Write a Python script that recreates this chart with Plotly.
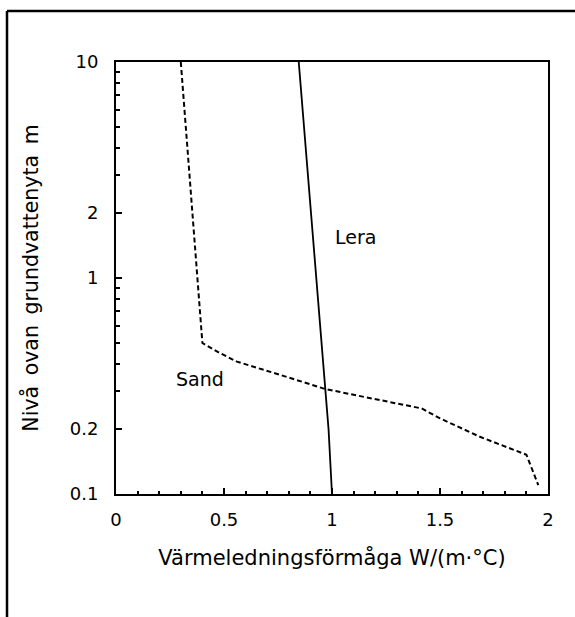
import math
import plotly.graph_objects as go

# ---- data ----
sand_x = [0.30, 0.353, 0.376, 0.385, 0.40, 0.48, 0.56, 0.76, 0.97, 1.16, 1.415, 1.50, 1.685, 1.90, 1.955]
sand_y = [10, 2, 1, 0.8, 0.5, 0.45, 0.41, 0.356, 0.306, 0.28, 0.249, 0.224, 0.184, 0.152, 0.11]

lera_x = [0.846, 0.903, 0.926, 0.952, 0.972, 0.984, 1.0]
lera_y = [10, 2, 1, 0.5, 0.3, 0.2, 0.1]

x_tickvals = [0, 0.5, 1, 1.5, 2]
x_ticktext = ["0", "0.5", "1", "1.5", "2"]
y_tickvals = [0.1, 0.2, 1, 2, 10]
y_ticktext = ["0.1", "0.2", "1", "2", "10"]
y_minor = [0.3, 0.4, 0.5, 0.6, 0.7, 0.8, 0.9, 3, 4, 5, 6, 7, 8, 9]

x_title = "Värmeledningsförmåga W/(m·°C)"
y_title = "Nivå\u2009 ovan\u2009 grundvattenyta\u2009 m"
labels = [("Sand", 0.388, 0.34), ("Lera", 1.111, 1.55)]

FONT = "DejaVu Sans"
W, H = 575, 617
ML, MR, MT, MB = 116, 27, 62, 123

fig = go.Figure()
fig.add_trace(go.Scatter(x=sand_x, y=sand_y, mode="lines", name="Sand",
                         line=dict(color="black", width=2, dash="5px,3px")))
fig.add_trace(go.Scatter(x=lera_x, y=lera_y, mode="lines", name="Lera",
                         line=dict(color="black", width=1.8)))

# annotations on a log axis take log10 positions
for txt, ax_, ay_ in labels:
    fig.add_annotation(x=ax_, y=math.log10(ay_), text=txt, showarrow=False,
                       font=dict(family=FONT, size=19, color="black"))

# outer frame (top and left edges), positions converted from pixels to paper
pw, ph = W - ML - MR, H - MT - MB
def px2paper_x(px):
    return (px - ML) / pw
def py2paper_y(py):
    return 1 - (py - MT) / ph

fig.add_shape(type="line", xref="paper", yref="paper",
              x0=px2paper_x(7), x1=px2paper_x(W + 5), y0=py2paper_y(11), y1=py2paper_y(11),
              line=dict(color="black", width=2.5))
fig.add_shape(type="line", xref="paper", yref="paper",
              x0=px2paper_x(7), x1=px2paper_x(7), y0=py2paper_y(11), y1=py2paper_y(H + 5),
              line=dict(color="black", width=2.5))

fig.update_layout(
    width=W, height=H,
    margin=dict(l=ML, r=MR, t=MT, b=MB),
    paper_bgcolor="white", plot_bgcolor="white",
    showlegend=False,
    font=dict(family=FONT, color="black"),
    xaxis=dict(
        range=[0, 2], tickvals=x_tickvals, ticktext=x_ticktext,
        ticks="inside", ticklen=6, tickwidth=1.5, tickcolor="black",
        showline=True, linecolor="black", linewidth=2, mirror=True,
        showgrid=False, zeroline=False,
        tickfont=dict(family=FONT, size=18, color="black"),
        ticklabelstandoff=8,
        minor=dict(dtick=0.1, ticks="inside", ticklen=3, tickwidth=1.5,
                   tickcolor="black", showgrid=False),
        title=dict(text=x_title, font=dict(family=FONT, size=21, color="black"),
                   standoff=22),
    ),
    yaxis=dict(
        type="log", range=[-1, 1], tickvals=y_tickvals, ticktext=y_ticktext,
        ticks="inside", ticklen=6, tickwidth=1.5, tickcolor="black",
        showline=True, linecolor="black", linewidth=2, mirror=True,
        showgrid=False, zeroline=False,
        tickfont=dict(family=FONT, size=18, color="black"),
        ticklabelstandoff=12,
        minor=dict(tickvals=y_minor, ticks="inside", ticklen=4, tickwidth=1.5,
                   tickcolor="black", showgrid=False),
        title=dict(text=y_title, font=dict(family=FONT, size=20.5, color="black"),
                   standoff=26),
    ),
)

fig.write_html("out.html")
